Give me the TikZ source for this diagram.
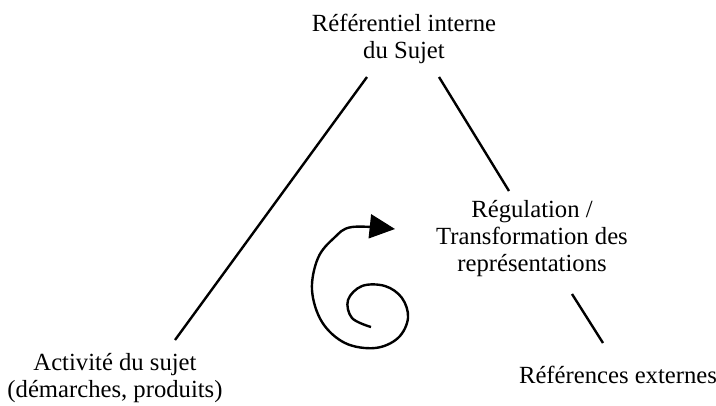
\documentclass[tikz,border=0pt]{standalone}
\usepackage{fontspec}
\setmainfont{Liberation Serif}
\usetikzlibrary{arrows.meta}
\begin{document}
\begin{tikzpicture}[x=0.75pt, y=-0.75pt, line width=1.8pt,
  lbl/.style={align=center, anchor=base, inner sep=0pt, font=\fontsize{18.5}{20}\selectfont}]
\useasboundingbox (0,0) rectangle (716,405);
\node[lbl] (ref) at (404,58){Référentiel interne\\du Sujet};
\node[lbl] (reg) at (532,271){Régulation /\\Transformation des\\représentations};
\node[lbl] (act) at (115,397){Activité du sujet\\(démarches, produits)};
\node[lbl] (ext) at (618,383){Références externes};
\coordinate (a0) at (367,77);
\coordinate (a1) at (175,340);
\coordinate (b0) at (439,77);
\coordinate (b1) at (509,191);
\coordinate (c0) at (572,294);
\coordinate (c1) at (603,343);
\draw[](a0) -- (a1);
\draw[](b0) -- (b1);
\draw[](c0) -- (c1);
% spirale
\draw[-{Triangle[length=19pt,width=18pt]}] plot[smooth, tension=.6] coordinates {
  (371,327) (352,318) (348,300) (362,286) (385,286) (402,298) (408,318)
  (398,338) (375,348) (345,343) (322,322) (312,290) (318,258) (334,238)
  (352,227) (395,229)};
\end{tikzpicture}
\end{document}
